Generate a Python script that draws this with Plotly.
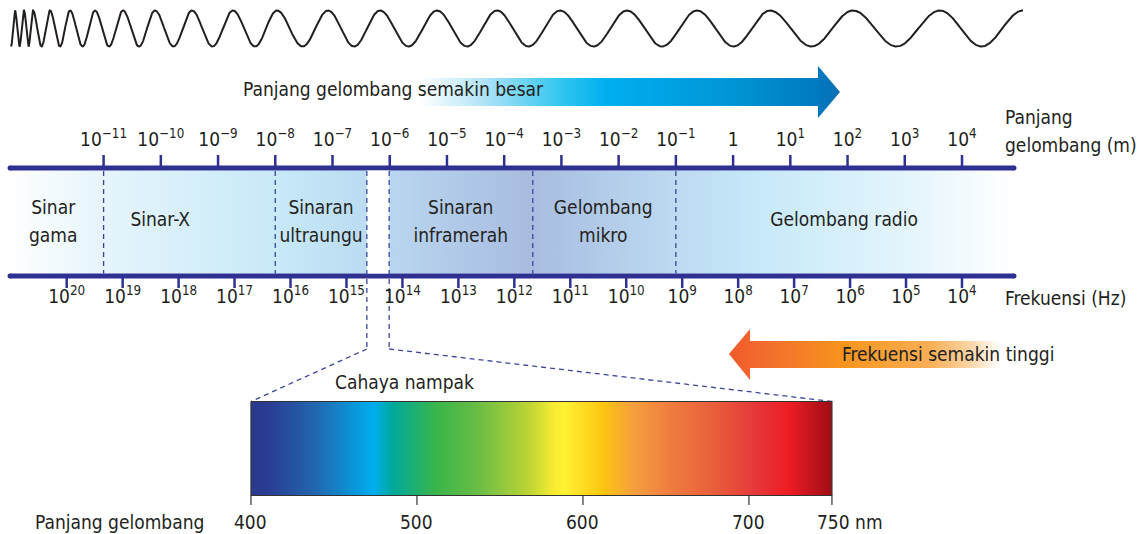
import numpy as np
import plotly.graph_objects as go

# ---------------- data ----------------
# wavelength scale (top), log10 of metres
lambda_exponents = [-11, -10, -9, -8, -7, -6, -5, -4, -3, -2, -1, 0, 1, 2, 3, 4]
lambda_labels = ["10<sup>−11</sup>", "10<sup>−10</sup>", "10<sup>−9</sup>", "10<sup>−8</sup>",
                 "10<sup>−7</sup>", "10<sup>−6</sup>", "10<sup>−5</sup>", "10<sup>−4</sup>",
                 "10<sup>−3</sup>", "10<sup>−2</sup>", "10<sup>−1</sup>", "1",
                 "10<sup>1</sup>", "10<sup>2</sup>", "10<sup>3</sup>", "10<sup>4</sup>"]
# frequency scale (bottom), log10 of Hz
freq_exponents = [20, 19, 18, 17, 16, 15, 14, 13, 12, 11, 10, 9, 8, 7, 6, 5, 4]
freq_labels = ["10<sup>%d</sup>" % e for e in freq_exponents]

# regions of the spectrum (positions given on the wavelength scale, log10 m)
region_line1 = ["Sinar", "Sinar-X", "Sinaran", "Sinaran", "Gelombang", "Gelombang radio"]
region_line2 = ["gama", "", "ultraungu", "inframerah", "mikro", ""]
region_label_exp = [-11.88, -10.01, -7.20, -4.76, -2.27, 1.94]
boundary_exp = [-11.0, -8.0, -6.40, -6.01, -3.50, -1.0]
visible_band_exp = [-6.40, -6.01]

# visible light
visible_ticks_nm = [400, 500, 600, 700, 750]
visible_tick_labels = ["400", "500", "600", "700", "750 nm"]
spectrum_nm = [400, 410, 438, 474, 485, 512, 537, 566, 583, 589, 613, 630, 653, 680, 703, 724, 750]
spectrum_colors = ["#2B3990", "#2A3C93", "#2265AE", "#00AEEF", "#00A99D", "#3AB54A", "#6ABD45",
                   "#B8D335", "#F9EC32", "#FFF133", "#FCC410", "#F5A03D", "#EF7C3F", "#E85D3A",
                   "#E6393A", "#ED1C24", "#9E0D14"]

# decorative wave: x positions of its crests (canvas px)
wave_crests_px = [15, 24, 33, 50, 70, 95, 123, 155, 192, 233, 277, 328, 380, 437, 497,
                  560, 627, 697, 770, 853, 940, 1023]

# ---------------- styles / layout constants ----------------
W, H = 1144, 534
CANVAS = [0, W]
LAM_RANGE = [-12.8103, 7.1803]
FREQ_RANGE = [21.192, 0.747]
NM_RANGE = [248.8, 938.0]

NAVY = "#2E3192"
DASH = "#3A469C"
TXT = "#231F20"
FONT = "Liberation Sans Narrow, DejaVu Sans Condensed, Roboto, sans-serif"
FS = 19

band_stops = [(10, "#FFFFFF"), (100, "#E6F5FC"), (275, "#C8E9F8"), (366, "#BBDCF1"),
              (389, "#B9D6EF"), (530, "#A8BCE0"), (676, "#BCDAF1"), (760, "#C7E9F9"),
              (900, "#E2F4FC"), (1014, "#FFFFFF")]
blue_stops = [(420, "#FFFFFF"), (480, "#B5E5F7"), (563, "#2EC5F0"), (607, "#00AEEF"),
              (730, "#0096D6"), (818, "#0079C1"), (840, "#0A6FB5")]
orange_stops = [(729, "#F15A29"), (760, "#F26A2E"), (843, "#F7941D"), (930, "#F9AE55"),
                (970, "#FCD5A5"), (1000, "#FFFFFF")]


def convert(v, src, dst):
    f = (v - src[0]) / (src[1] - src[0])
    return dst[0] + f * (dst[1] - dst[0])


def scale_from(stops):
    a, b = stops[0][0], stops[-1][0]
    return [[(p - a) / (b - a), c] for p, c in stops]


fig = go.Figure()
common = dict(hoverinfo="skip", showlegend=False)
tfont = dict(family=FONT, size=FS, color=TXT)

# band between the two scales
fig.add_trace(go.Scatter(x=[10, 1014, 1014, 10, 10], y=[170.5, 170.5, 273.5, 273.5, 170.5],
                         mode="lines", fill="toself", line=dict(width=0),
                         fillgradient=dict(type="horizontal", colorscale=scale_from(band_stops)),
                         xaxis="x", yaxis="y", **common))
# visible light gap (white)
v0, v1 = visible_band_exp
fig.add_trace(go.Scatter(x=[v0, v1, v1, v0, v0], y=[170.5, 170.5, 273.5, 273.5, 170.5],
                         mode="lines", fill="toself", fillcolor="white", line=dict(width=0),
                         xaxis="x2", yaxis="y", **common))

# dashed region boundaries
bx, by = [], []
for b in boundary_exp:
    bottom = 349 if b in visible_band_exp else 273.5
    bx += [b, b, None]
    by += [171, bottom, None]
fig.add_trace(go.Scatter(x=bx, y=by, mode="lines",
                         line=dict(color=DASH, width=1.3, dash="5px,4px"),
                         xaxis="x2", yaxis="y", **common))
# dashed lines fanning out to the visible spectrum
dx = [convert(v0, LAM_RANGE, NM_RANGE), visible_ticks_nm[0], None,
      convert(v1, LAM_RANGE, NM_RANGE), visible_ticks_nm[-1]]
dy = [349, 401.5, None, 349, 401.5]
fig.add_trace(go.Scatter(x=dx, y=dy, mode="lines",
                         line=dict(color=DASH, width=1.3, dash="5px,4px"),
                         xaxis="x4", yaxis="y", **common))

# scale lines
for yl in (168, 276):
    fig.add_trace(go.Scatter(x=[10, 1014], y=[yl, yl], mode="lines+markers",
                             line=dict(color=NAVY, width=5),
                             marker=dict(size=5, color=NAVY),
                             xaxis="x", yaxis="y", **common))

# ticks on wavelength scale
tx, ty = [], []
for e in lambda_exponents:
    tx += [e, e, None]
    ty += [155, 168, None]
fig.add_trace(go.Scatter(x=tx, y=ty, mode="lines", line=dict(color=NAVY, width=2.5),
                         xaxis="x2", yaxis="y", **common))
fig.add_trace(go.Scatter(x=lambda_exponents, y=[141] * len(lambda_exponents), mode="text",
                         text=lambda_labels, textposition="middle center", textfont=tfont,
                         xaxis="x2", yaxis="y", **common))

# ticks on frequency scale
fx, fy = [], []
for e in freq_exponents:
    fx += [e, e, None]
    fy += [276, 288, None]
fig.add_trace(go.Scatter(x=fx, y=fy, mode="lines", line=dict(color=NAVY, width=2.5),
                         xaxis="x3", yaxis="y", **common))
fig.add_trace(go.Scatter(x=freq_exponents, y=[298] * len(freq_exponents), mode="text",
                         text=freq_labels, textposition="middle center", textfont=tfont,
                         xaxis="x3", yaxis="y", **common))

# region names
for xe, l1, l2 in zip(region_label_exp, region_line1, region_line2):
    if l2:
        fig.add_trace(go.Scatter(x=[xe, xe], y=[209, 237], mode="text", text=[l1, l2],
                                 textposition="middle center", textfont=tfont,
                                 xaxis="x2", yaxis="y", **common))
    else:
        fig.add_trace(go.Scatter(x=[xe], y=[221], mode="text", text=[l1],
                                 textposition="middle center", textfont=tfont,
                                 xaxis="x2", yaxis="y", **common))

# visible spectrum box
s0, s1 = visible_ticks_nm[0], visible_ticks_nm[-1]
fig.add_trace(go.Scatter(x=[s0, s1, s1, s0, s0], y=[401.5, 401.5, 495.5, 495.5, 401.5],
                         mode="lines", fill="toself", line=dict(color="#333333", width=1.2),
                         fillgradient=dict(type="horizontal", start=spectrum_nm[0], stop=spectrum_nm[-1],
                                           colorscale=[[(n - spectrum_nm[0]) / (spectrum_nm[-1] - spectrum_nm[0]), c]
                                                       for n, c in zip(spectrum_nm, spectrum_colors)]),
                         xaxis="x4", yaxis="y", **common))
vx, vy = [], []
for n in visible_ticks_nm:
    vx += [n, n, None]
    vy += [495.5, 505, None]
fig.add_trace(go.Scatter(x=vx, y=vy, mode="lines", line=dict(color="#333333", width=1.2),
                         xaxis="x4", yaxis="y", **common))
for n, lab in zip(visible_ticks_nm, visible_tick_labels):
    fig.add_annotation(text=lab, x=n, y=522, xref="x4", yref="y",
                       xanchor="center" if lab.isdigit() else "left",
                       xshift=0 if lab.isdigit() else -17,
                       yanchor="middle", showarrow=False, font=tfont)

# decorative wave
xs = np.linspace(11, wave_crests_px[-1], 3000)
crest_idx = np.arange(len(wave_crests_px), dtype=float)
phase = np.where(xs < wave_crests_px[0],
                 -0.5 + (xs - 11) / (wave_crests_px[0] - 11) * 0.5,
                 np.interp(xs, wave_crests_px, crest_idx))
ys = 28.5 - 18.0 * np.cos(2 * np.pi * phase)
fig.add_trace(go.Scatter(x=xs, y=ys, mode="lines", line=dict(color=TXT, width=2),
                         xaxis="x", yaxis="y", **common))

# arrows
fig.add_trace(go.Scatter(x=[420, 818, 818, 840, 818, 818, 420, 420],
                         y=[78, 78, 66, 92, 118, 106, 106, 78],
                         mode="lines", fill="toself", line=dict(width=0),
                         fillgradient=dict(type="horizontal", colorscale=scale_from(blue_stops)),
                         xaxis="x", yaxis="y", **common))
fig.add_trace(go.Scatter(x=[729, 750, 750, 1000, 1000, 750, 750, 729],
                         y=[354, 329, 341, 341, 368, 368, 380, 354],
                         mode="lines", fill="toself", line=dict(width=0),
                         fillgradient=dict(type="horizontal", colorscale=scale_from(orange_stops)),
                         xaxis="x", yaxis="y", **common))


# free texts
def note(text, x, y, xanchor="left"):
    fig.add_annotation(text=text, x=x, y=y, xref="x", yref="y", xanchor=xanchor, yanchor="middle",
                       showarrow=False, align="left", font=tfont)


note("Panjang gelombang semakin besar", 241, 89)
note("Panjang", 1003, 117)
note("gelombang (m)", 1003, 145)
note("Frekuensi (Hz)", 1003, 298)
note("Frekuensi semakin tinggi", 840, 354)
note("Cahaya nampak", 404, 382, "center")
note("Panjang gelombang", 33, 522)

ax = dict(visible=False, showgrid=False, zeroline=False, fixedrange=True)
fig.update_layout(
    width=W, height=H, margin=dict(l=0, r=0, t=0, b=0),
    paper_bgcolor="white", plot_bgcolor="white", showlegend=False,
    xaxis=dict(range=CANVAS, **ax),
    xaxis2=dict(range=LAM_RANGE, overlaying="x", **ax),
    xaxis3=dict(range=FREQ_RANGE, overlaying="x", **ax),
    xaxis4=dict(range=NM_RANGE, overlaying="x", **ax),
    yaxis=dict(range=[H, 0], **ax),
)

fig.write_html("out.html", post_script="document.body.style.margin='0';document.body.style.overflow='hidden';",
               config=dict(displayModeBar=False, staticPlot=True))
